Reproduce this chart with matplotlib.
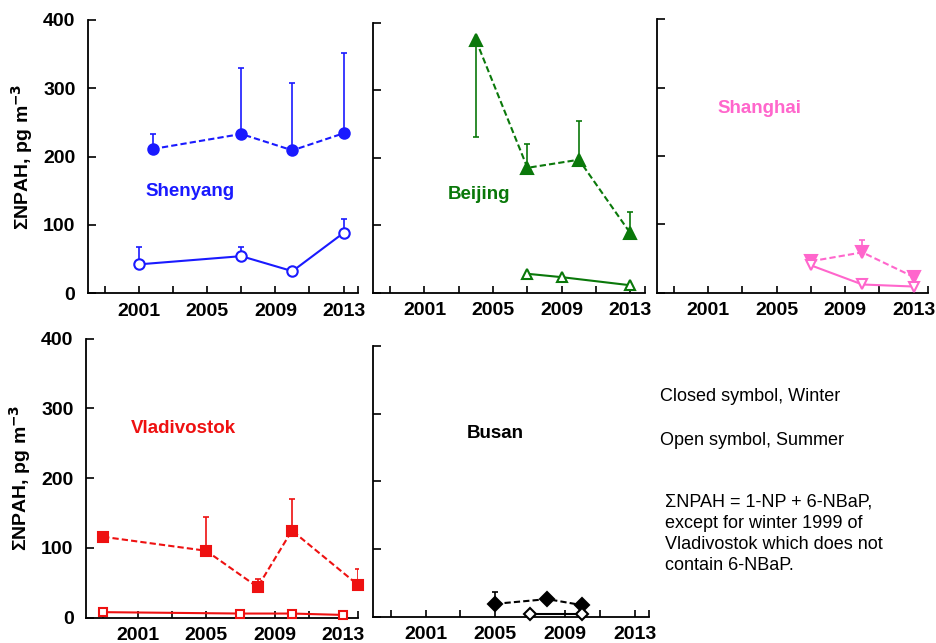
import numpy as np
import matplotlib.pyplot as plt

plt.rcParams['font.family'] = ['Liberation Sans', 'DejaVu Sans']

# Shenyang
shen_w_x = [2001.8, 2007, 2010, 2013]
shen_w_y = [211, 233, 209, 234]
shen_w_up = [22, 96, 98, 118]
shen_s_x = [2001, 2007, 2010, 2013]
shen_s_y = [42, 54, 32, 88]
shen_s_up = [26, 14, 0, 21]

# Beijing
bei_w_x = [2004, 2007, 2010, 2013]
bei_w_y = [374, 185, 197, 88]
bei_w_up = [0, 35, 57, 32]
bei_w_lo = [143, 0, 0, 0]
bei_s_x = [2007, 2009, 2013]
bei_s_y = [28, 23, 11]

# Shanghai
sha_w_x = [2007, 2010, 2013]
sha_w_y = [46, 59, 23]
sha_w_up = [0, 18, 5]
sha_s_x = [2007, 2010, 2013]
sha_s_y = [40, 12, 9]

# Vladivostok
vla_w_x = [1999, 2005, 2008, 2010, 2013.85]
vla_w_y = [116, 96, 44, 125, 47]
vla_w_up = [0, 48, 12, 45, 23]
vla_s_x = [1999, 2007, 2010, 2013]
vla_s_y = [8, 6, 6, 4]

# Busan
bus_w_x = [2005, 2008, 2010]
bus_w_y = [19, 26, 17]
bus_w_up = [17, 5, 0]
bus_s_x = [2007, 2010]
bus_s_y = [4, 4]

year_ticks = [2001, 2005, 2009, 2013]
year_minor = [1999, 2003, 2007, 2011, 2013.85]
y_ticks = [0, 100, 200, 300, 400]


def preparar(ax, etiquetas_y):
    ax.set_xlim(1998, 2013.85)
    ax.set_ylim(0, 400)
    ax.spines['top'].set_visible(False)
    ax.spines['right'].set_visible(False)
    ax.spines['left'].set_linewidth(1.3)
    ax.spines['bottom'].set_linewidth(1.3)
    ax.set_xticks(year_ticks)
    ax.set_xticks(year_minor, minor=True)
    ax.set_yticks(y_ticks)
    ax.tick_params(axis='both', which='both', direction='in', width=1.2)
    ax.tick_params(axis='x', which='both', length=5, pad=7)
    ax.tick_params(axis='y', length=5.5, pad=9)
    for lab in ax.get_xticklabels():
        lab.set_fontsize(14)
        lab.set_fontweight('bold')
    if etiquetas_y:
        for lab in ax.get_yticklabels():
            lab.set_fontsize(14)
            lab.set_fontweight('bold')
        ax.set_ylabel(r'ΣNPAH, pg m$^{\mathbf{-3}}$', fontsize=14, fontweight='bold', labelpad=6)
    else:
        ax.set_yticklabels([])


def serie(ax, x, y, color, marker, ms, abierto, estilo, up=None, lo=None):
    if up is not None:
        if lo is None:
            lo = [0] * len(up)
        ax.errorbar(x, y, yerr=[lo, up], fmt='none', ecolor=color,
                    elinewidth=1.2, capsize=2, capthick=1.2, zorder=2)
    cara = 'white' if abierto else color
    ax.plot(x, y, color=color, linestyle=estilo, linewidth=1.5,
            marker=marker, markersize=ms, markerfacecolor=cara,
            markeredgecolor=color, markeredgewidth=1.5, zorder=3, clip_on=False)


fig = plt.figure(figsize=(9.36, 6.43), dpi=100)

azul = '#1a1aff'
verde = '#0a780a'
rosa = '#ff66cc'
rojo = '#ee1111'

ax1 = fig.add_axes([0.0940, 0.5443, 0.2885, 0.4246])
serie(ax1, shen_w_x, shen_w_y, azul, 'o', 7.5, False, (0, (3, 1.5)), shen_w_up)
serie(ax1, shen_s_x, shen_s_y, azul, 'o', 7.5, True, '-', shen_s_up)
ax1.text(2004, 148, 'Shenyang', color=azul, fontsize=13.5, fontweight='bold', ha='center', va='center')
preparar(ax1, True)

ax2 = fig.add_axes([0.3985, 0.5448, 0.2906, 0.4199])
serie(ax2, bei_w_x, bei_w_y, verde, '^', 9, False, (0, (3, 1.5)), bei_w_up, bei_w_lo)
serie(ax2, bei_s_x, bei_s_y, verde, '^', 7.5, True, '-')
ax2.text(2004.2, 145, 'Beijing', color=verde, fontsize=13.5, fontweight='bold', ha='center', va='center')
preparar(ax2, False)

ax3 = fig.add_axes([0.7016, 0.5448, 0.2902, 0.4252])
serie(ax3, sha_w_x, sha_w_y, rosa, 'v', 8, False, (0, (3, 1.5)), sha_w_up)
serie(ax3, sha_s_x, sha_s_y, rosa, 'v', 7.5, True, '-')
ax3.text(2004, 270, 'Shanghai', color=rosa, fontsize=13.5, fontweight='bold', ha='center', va='center')
preparar(ax3, False)

ax4 = fig.add_axes([0.0919, 0.0393, 0.2906, 0.4339])
serie(ax4, vla_w_x, vla_w_y, rojo, 's', 7.5, False, (0, (3, 1.5)), vla_w_up)
serie(ax4, vla_s_x, vla_s_y, rojo, 's', 6, True, '-')
ax4.text(2003.7, 271, 'Vladivostok', color=rojo, fontsize=13.5, fontweight='bold', ha='center', va='center')
preparar(ax4, True)

ax5 = fig.add_axes([0.3988, 0.0409, 0.2949, 0.4210])
serie(ax5, bus_w_x, bus_w_y, 'black', 'D', 7, False, (0, (3, 1.5)), bus_w_up)
serie(ax5, bus_s_x, bus_s_y, 'black', 'D', 6.5, True, '-')
ax5.text(2005, 270, 'Busan', color='black', fontsize=13.5, fontweight='bold', ha='center', va='center')
preparar(ax5, False)

fig.text(0.705, 0.3826, 'Closed symbol, Winter', fontsize=13, va='center')
fig.text(0.705, 0.3146, 'Open symbol, Summer', fontsize=13, va='center')
fig.text(0.7105, 0.170, 'ΣNPAH = 1-NP + 6-NBaP,\nexcept for winter 1999 of\n'
         'Vladivostok which does not\ncontain 6-NBaP.',
         fontsize=13, va='center', linespacing=1.32)

plt.savefig('out.png', dpi=100)
